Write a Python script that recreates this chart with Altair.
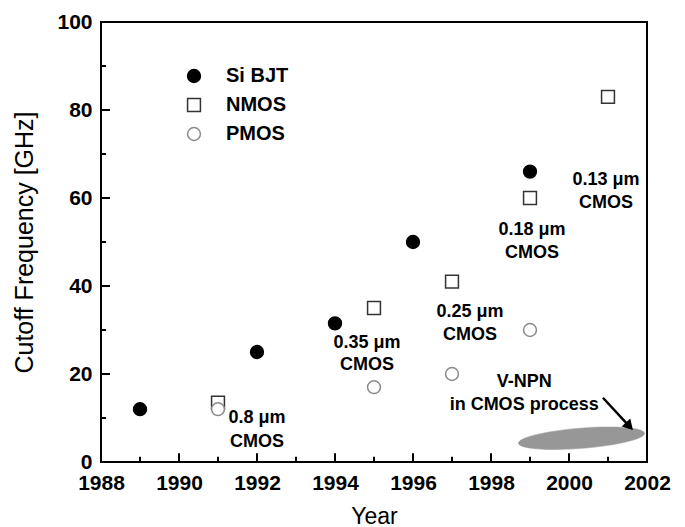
import altair as alt
import pandas as pd

# Measured cutoff frequencies (GHz) by year of introduction
bjt_years = [1989, 1992, 1994, 1996, 1999]
bjt_ft = [12, 25, 31.5, 50, 66]

nmos_years = [1991, 1995, 1997, 1999, 2001]
nmos_ft = [13.5, 35, 41, 60, 83]

pmos_years = [1991, 1995, 1997, 1999]
pmos_ft = [12, 17, 20, 30]

devices = ["Si BJT", "NMOS", "PMOS"]

# Technology-node annotations (one row per text line)
note_x = [1992.0, 1992.0, 1994.82, 1994.82, 1997.46, 1997.46,
          1999.05, 1999.05, 2000.95, 2000.95, 1998.85, 1998.85]
note_y = [10.0, 4.6, 27.0, 22.0, 34.1, 28.9,
          52.7, 47.5, 64.1, 58.9, 18.2, 13.0]
note_text = ["0.8 \u03bcm", "CMOS", "0.35 \u03bcm", "CMOS", "0.25 \u03bcm", "CMOS",
             "0.18 \u03bcm", "CMOS", "0.13 \u03bcm", "CMOS", "V-NPN", "in CMOS process"]

# V-NPN region and the arrow pointing at it
vnpn_x = [2000.32]
vnpn_y = [5.4]
arrow_x = [2000.87]
arrow_y = [14.6]
arrow_x2 = [2001.52]
arrow_y2 = [8.4]

# Axis tick positions
x_major = [1990, 1992, 1994, 1996, 1998, 2000]
x_minor = [1989, 1991, 1993, 1995, 1997, 1999, 2001]
y_major = [20, 40, 60, 80]
y_minor = [10, 30, 50, 70, 90]

FONT = "Liberation Sans"

points = pd.DataFrame({
    "Year": bjt_years + nmos_years + pmos_years,
    "fT": bjt_ft + nmos_ft + pmos_ft,
    "Device": ["Si BJT"] * len(bjt_years) + ["NMOS"] * len(nmos_years)
              + ["PMOS"] * len(pmos_years),
})
notes = pd.DataFrame({"x": note_x, "y": note_y, "t": note_text})
vnpn = pd.DataFrame({"x": vnpn_x, "y": vnpn_y})
arrow = pd.DataFrame({"x": arrow_x, "y": arrow_y, "x2": arrow_x2, "y2": arrow_y2})

xscale = alt.Scale(domain=[1988, 2002], nice=False, zero=False)
yscale = alt.Scale(domain=[0, 100], nice=False)

xaxis = alt.Axis(values=[1988, 1990, 1992, 1994, 1996, 1998, 2000, 2002], format="d",
                 title="Year", ticks=False, tickSize=0, domain=False, grid=False,
                 labelFont=FONT, labelFontWeight="bold", labelFontSize=21,
                 labelColor="black", labelPadding=10, labelFlush=False,
                 titleFont=FONT, titleFontWeight="normal", titleFontSize=23,
                 titleColor="black", titleY=61, titleBaseline="alphabetic")
yaxis = alt.Axis(values=[0, 20, 40, 60, 80, 100], title="Cutoff Frequency [GHz]",
                 ticks=False, tickSize=0, domain=False, grid=False,
                 labelFont=FONT, labelFontWeight="bold", labelFontSize=21,
                 labelColor="black", labelPadding=9, labelFlush=False,
                 titleFont=FONT, titleFontWeight="normal", titleFontSize=25,
                 titleColor="black", titleX=-69, titleY=220,
                 titleBaseline="alphabetic")

scatter = alt.Chart(points).mark_point(filled=True, opacity=1, strokeWidth=1.5, size=165).encode(
    x=alt.X("Year:Q", scale=xscale, axis=xaxis),
    y=alt.Y("fT:Q", scale=yscale, axis=yaxis),
    shape=alt.Shape("Device:N", scale=alt.Scale(domain=devices, range=["circle", "square", "circle"]),
                    legend=alt.Legend(title=None, orient="none", legendX=83, legendY=44)),
    fill=alt.Fill("Device:N", scale=alt.Scale(domain=devices, range=["black", "white", "white"]),
                  legend=alt.Legend(title=None, orient="none", legendX=83, legendY=44)),
    stroke=alt.Stroke("Device:N", scale=alt.Scale(domain=devices, range=["black", "#333333", "#8a8a8a"]),
                      legend=alt.Legend(title=None, orient="none", legendX=83, legendY=44)),
)

labels = alt.Chart(notes).mark_text(font=FONT, fontWeight="bold", fontSize=18,
                                    color="black", align="center", baseline="middle").encode(
    x=alt.X("x:Q", scale=xscale), y=alt.Y("y:Q", scale=yscale), text="t:N")

ellipse = alt.Chart(vnpn).mark_point(
    shape="M -1 0 A 1 0.16 0 1 0 1 0 A 1 0.16 0 1 0 -1 0 Z",
    filled=True, fill="#979797", stroke="#979797", strokeWidth=0.5,
    opacity=1, size=16000, angle=355.5).encode(
    x=alt.X("x:Q", scale=xscale), y=alt.Y("y:Q", scale=yscale))

arrow_line = alt.Chart(arrow).mark_rule(color="black", strokeWidth=2.5).encode(
    x=alt.X("x:Q", scale=xscale), y=alt.Y("y:Q", scale=yscale), x2="x2:Q", y2="y2:Q")
arrow_head = alt.Chart(arrow).mark_point(shape="triangle", filled=True, color="black",
                                         opacity=1, size=140, angle=137).encode(
    x=alt.X("x2:Q", scale=xscale), y=alt.Y("y2:Q", scale=yscale))

# Inward-pointing axis ticks
xt_major = alt.Chart(pd.DataFrame({"v": x_major})).mark_rule(color="black", strokeWidth=2).encode(
    x=alt.X("v:Q", scale=xscale), y=alt.datum(0), y2=alt.datum(2.0))
xt_minor = alt.Chart(pd.DataFrame({"v": x_minor})).mark_rule(color="black", strokeWidth=2).encode(
    x=alt.X("v:Q", scale=xscale), y=alt.datum(0), y2=alt.datum(1.2))
yt_major = alt.Chart(pd.DataFrame({"v": y_major})).mark_rule(color="black", strokeWidth=2).encode(
    y=alt.Y("v:Q", scale=yscale), x=alt.datum(1988), x2=alt.datum(1988.23))
yt_minor = alt.Chart(pd.DataFrame({"v": y_minor})).mark_rule(color="black", strokeWidth=2).encode(
    y=alt.Y("v:Q", scale=yscale), x=alt.datum(1988), x2=alt.datum(1988.13))

chart = alt.layer(
    xt_major, xt_minor, yt_major, yt_minor,
    ellipse, arrow_line, arrow_head, labels, scatter,
).properties(
    width=546, height=440,
    autosize=alt.AutoSizeParams(type="none"),
    padding={"left": 101, "top": 22, "right": 38, "bottom": 65},
    background="white",
).configure_view(
    stroke="black", strokeWidth=2,
).configure_legend(
    padding=0, symbolSize=165, symbolStrokeWidth=1.5, rowPadding=9, labelOffset=22,
    labelFont=FONT, labelFontWeight="bold", labelFontSize=20, labelColor="black",
)

chart.save("out.html", embed_options={"renderer": "svg", "actions": False})
